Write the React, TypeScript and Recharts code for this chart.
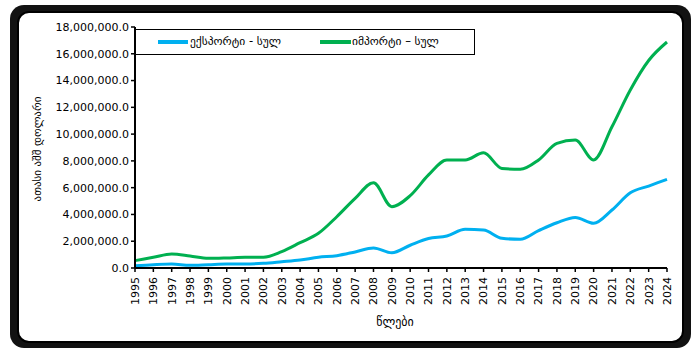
import React from 'react';
import { LineChart, Line, XAxis, YAxis } from 'recharts';

const years = [
  '1995', '1996', '1997', '1998', '1999', '2000', '2001', '2002', '2003', '2004',
  '2005', '2006', '2007', '2008', '2009', '2010', '2011', '2012', '2013', '2014',
  '2015', '2016', '2017', '2018', '2019', '2020', '2021', '2022', '2023', '2024',
];

// ათასი აშშ დოლარი
const exportsTotal = [
  170000, 250000, 300000, 200000, 250000, 300000, 300000, 350000, 470000, 600000,
  800000, 920000, 1200000, 1500000, 1140000, 1700000, 2200000, 2390000, 2890000, 2840000,
  2220000, 2140000, 2790000, 3380000, 3780000, 3340000, 4330000, 5620000, 6120000, 6620000,
];

const importsTotal = [
  550000, 800000, 1050000, 900000, 720000, 750000, 800000, 800000, 1220000, 1890000,
  2590000, 3830000, 5200000, 6370000, 4580000, 5400000, 6950000, 8070000, 8070000, 8600000,
  7440000, 7370000, 8070000, 9310000, 9560000, 8070000, 10550000, 13300000, 15500000, 16880000,
];

const yTicks = [0, 2000000, 4000000, 6000000, 8000000, 10000000, 12000000, 14000000, 16000000, 18000000];

const exportName = 'ექსპორტი - სულ';
const importName = 'იმპორტი – სულ';

const data = years.map((y, i) => ({ year: y, exp: exportsTotal[i], imp: importsTotal[i] }));

const FONT = '"DejaVu Sans", sans-serif';

const YearTick = (props: any) => {
  const { x, y, payload } = props;
  return (
    <text
      transform={`translate(${x},${y + 3}) rotate(-90)`}
      textAnchor="end"
      dy="0.35em"
      fontSize={11}
      fontFamily={FONT}
      fill="#000"
    >
      {payload.value}
    </text>
  );
};

const LegendBox = () => (
  <div
    style={{
      position: 'absolute',
      left: 135,
      top: 29,
      width: 340,
      height: 26,
      boxSizing: 'border-box',
      border: '1.5px solid #000',
      background: '#fff',
      fontFamily: FONT,
      fontSize: 11.5,
      color: '#000',
    }}
  >
    <div style={{ position: 'absolute', left: 22, top: 10, width: 30, height: 4, background: '#00B0F0' }} />
    <span style={{ position: 'absolute', left: 54, top: 4 }}>{exportName}</span>
    <div style={{ position: 'absolute', left: 184, top: 10, width: 31, height: 4, background: '#00B050' }} />
    <span style={{ position: 'absolute', left: 216, top: 4 }}>{importName}</span>
  </div>
);

const App: React.FC = () => {
  return (
    <div style={{ position: 'absolute', left: 0, top: 0, width: 696, height: 361, background: '#fff' }}>
      {/* dotted shadow frame */}
      <div
        style={{
          position: 'absolute',
          left: 10,
          top: 5,
          width: 681,
          height: 343,
          borderRadius: 14,
          backgroundImage: 'radial-gradient(#000 0.7px, transparent 0.8px)',
          backgroundSize: '2px 2px',
        }}
      />
      <div
        style={{
          position: 'absolute',
          left: 17,
          top: 11,
          width: 667,
          height: 332,
          boxSizing: 'border-box',
          border: '2px solid #000',
          borderRadius: 12,
          background: '#fff',
        }}
      />
      <div style={{ position: 'absolute', left: 0, top: 0 }}>
        <LineChart width={696} height={361} data={data} margin={{ top: 27, right: 29, left: 0, bottom: 33 }}>
          <XAxis
            dataKey="year"
            height={60}
            interval={0}
            tick={<YearTick />}
            tickSize={4}
            axisLine={{ stroke: '#000', strokeWidth: 2 }}
            tickLine={{ stroke: '#000', strokeWidth: 1.5 }}
          />
          <YAxis
            width={135}
            domain={[0, 18000000]}
            ticks={yTicks}
            interval={0}
            tickSize={4}
            tickFormatter={(v: number) => v.toLocaleString('en-US', { minimumFractionDigits: 1, maximumFractionDigits: 1 })}
            tick={{ fontSize: 11, fontFamily: FONT, fill: '#000' }}
            axisLine={{ stroke: '#000', strokeWidth: 2 }}
            tickLine={{ stroke: '#000', strokeWidth: 1.5 }}
          />
          <Line
            type="monotone"
            dataKey="exp"
            name={exportName}
            stroke="#00B0F0"
            strokeWidth={3}
            dot={false}
            isAnimationActive={false}
          />
          <Line
            type="monotone"
            dataKey="imp"
            name={importName}
            stroke="#00B050"
            strokeWidth={3}
            dot={false}
            isAnimationActive={false}
          />
        </LineChart>
      </div>
      <LegendBox />
      <div
        style={{
          position: 'absolute',
          left: 37,
          top: 149,
          transform: 'translate(-50%, -50%) rotate(-90deg)',
          whiteSpace: 'nowrap',
          fontFamily: FONT,
          fontSize: 11,
          color: '#000',
        }}
      >
        ათასი აშშ დოლარი
      </div>
      <div
        style={{
          position: 'absolute',
          left: 395,
          top: 322,
          transform: 'translate(-50%, -50%)',
          whiteSpace: 'nowrap',
          fontFamily: FONT,
          fontSize: 12,
          color: '#000',
        }}
      >
        წლები
      </div>
    </div>
  );
};

export default App;
